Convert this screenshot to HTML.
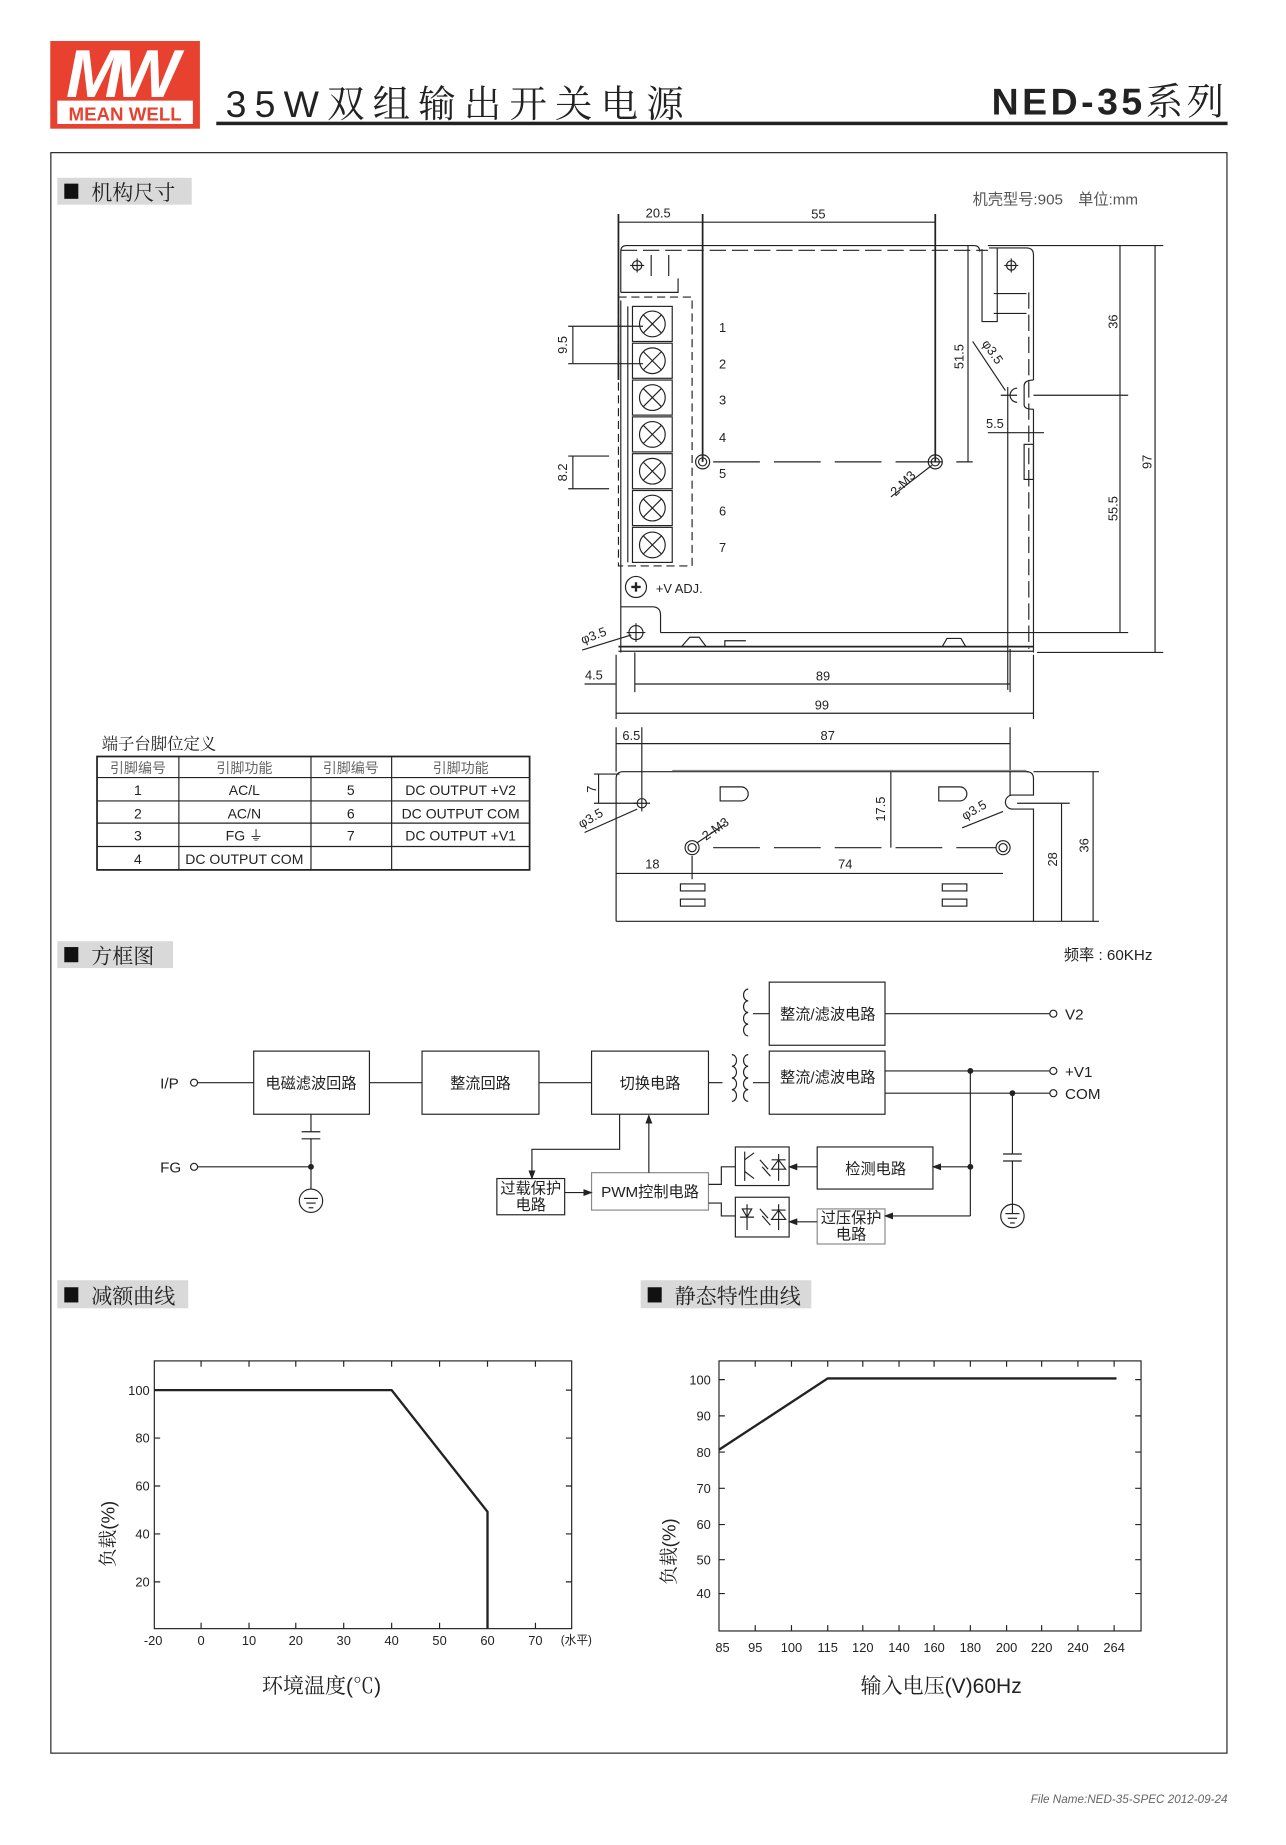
<!DOCTYPE html>
<html><head><meta charset="utf-8"><style>
html,body{margin:0;padding:0;background:#fff}
svg{display:block}
text{font-family:"Liberation Sans","Noto Sans CJK SC",sans-serif;fill:#222}
.c{font-family:"Liberation Sans","Noto Serif CJK SC","Noto Sans CJK SC",serif}
</style></head><body>
<svg width="1286" height="1845" viewBox="0 0 1100 1578" xmlns="http://www.w3.org/2000/svg">
<defs>
<marker id="ar" markerWidth="8" markerHeight="6" refX="7" refY="3" orient="auto" markerUnits="userSpaceOnUse"><path d="M0,0 L8,3 L0,6 z" fill="#222"/></marker>
</defs>
<!-- header -->
<rect x="43" y="35" width="128" height="75" fill="#e8412f"/>
<text x="102" y="83" font-size="58" font-style="italic" font-weight="bold" fill="#fff" text-anchor="middle" style="fill:#fff" letter-spacing="-6">MW</text>
<rect x="49" y="86" width="116" height="20" fill="#fff"/>
<text x="107" y="103" font-size="16" font-weight="bold" text-anchor="middle" style="fill:#e8412f">MEAN WELL</text>
<text x="193" y="100" font-size="32" class="c" letter-spacing="7">35W双组输出开关电源</text>
<rect x="185" y="104" width="865" height="3" fill="#222"/>
<text x="1050" y="98" font-size="32" font-weight="bold" text-anchor="end" letter-spacing="3">NED-35<tspan font-weight="normal" class="c">系列</tspan></text>
<!-- frame -->
<rect x="43.5" y="130.5" width="1006" height="1369" fill="none" stroke="#222" stroke-width="1"/>
<!-- section headers -->
<g class="c" font-size="18">
<rect x="49" y="152" width="115" height="23" fill="#d9d9d9"/><rect x="55" y="157" width="12" height="13" fill="#111"/><text x="78" y="171" class="c">机构尺寸</text>
<rect x="49" y="805" width="99" height="23" fill="#d9d9d9"/><rect x="55" y="810" width="12" height="13" fill="#111"/><text x="78" y="824" class="c">方框图</text>
<rect x="49" y="1095" width="112" height="24" fill="#d9d9d9"/><rect x="55" y="1101" width="12" height="13" fill="#111"/><text x="78" y="1115" class="c">减额曲线</text>
<rect x="548" y="1095" width="146" height="24" fill="#d9d9d9"/><rect x="554" y="1101" width="12" height="13" fill="#111"/><text x="577" y="1115" class="c">静态特性曲线</text>
</g>
<text x="832" y="175" font-size="13" fill="#555" style="fill:#555">机壳型号:905　单位:mm</text>

<!-- ===== top view ===== -->
<g stroke="#222" stroke-width="1" fill="none">
<line x1="529" y1="183" x2="529" y2="325" stroke-width="1.5"/>
<line x1="601" y1="183" x2="601" y2="395" stroke-width="1.5"/>
<line x1="800" y1="183" x2="800" y2="395" stroke-width="1.5"/>
<line x1="529" y1="190" x2="601" y2="190"/><line x1="601" y1="190" x2="800" y2="190"/>
<path d="M531,250 V215 Q531,210 536,210 H833 Q838,210 838,215 V213"/>
<line x1="531" y1="214" x2="845" y2="214" stroke-dasharray="14,5"/>
<path d="M531,250 H580 V238"/>
<line x1="557" y1="218" x2="557" y2="236"/><line x1="572" y1="218" x2="572" y2="236"/>
<circle cx="545" cy="227" r="4"/><line x1="539" y1="227" x2="551" y2="227"/><line x1="545" y1="221" x2="545" y2="233"/>
<path d="M840,213 V275 H853 V212"/>
<path d="M846,212 H878 Q884,212 884,218 V325 M884,350 V558"/>
<path d="M884,325 Q876,325 876,330 V346 Q876,350 884,350"/>
<circle cx="865" cy="227" r="4"/><line x1="859" y1="227" x2="871" y2="227"/><line x1="865" y1="221" x2="865" y2="233"/>
<line x1="850" y1="251" x2="878" y2="251"/><line x1="850" y1="268" x2="878" y2="268"/>
<line x1="880" y1="250" x2="880" y2="555" stroke-dasharray="14,5"/>
<path d="M870,332 A6,6 0 0 0 870,344"/><line x1="856" y1="338" x2="870" y2="338"/><line x1="862" y1="331" x2="862" y2="345"/>
<line x1="884" y1="338" x2="965" y2="338"/>
<rect x="876" y="380" width="8" height="30"/>
<line x1="845" y1="370" x2="893" y2="370"/>
<line x1="862" y1="345" x2="862" y2="590"/>
<path d="M531,257 V541 M531,558 V541"/>
<rect x="529" y="254" width="63" height="230" stroke-dasharray="7,4"/>
<g>
<rect x="541" y="262" width="34" height="30"/><circle cx="558" cy="277" r="11"/><path d="M550,269 L566,285 M566,269 L550,285"/>
<rect x="541" y="293.5" width="34" height="30"/><circle cx="558" cy="308.5" r="11"/><path d="M550,300.5 L566,316.5 M566,300.5 L550,316.5"/>
<rect x="541" y="325" width="34" height="30"/><circle cx="558" cy="340" r="11"/><path d="M550,332 L566,348 M566,332 L550,348"/>
<rect x="541" y="356.5" width="34" height="30"/><circle cx="558" cy="371.5" r="11"/><path d="M550,363.5 L566,379.5 M566,363.5 L550,379.5"/>
<rect x="541" y="388" width="34" height="30"/><circle cx="558" cy="403" r="11"/><path d="M550,395 L566,411 M566,395 L550,411"/>
<rect x="541" y="419.5" width="34" height="30"/><circle cx="558" cy="434.5" r="11"/><path d="M550,426.5 L566,442.5 M566,426.5 L550,442.5"/>
<rect x="541" y="451" width="34" height="30"/><circle cx="558" cy="466" r="11"/><path d="M550,458 L566,474 M566,458 L550,474"/>
<line x1="537" y1="262" x2="537" y2="481"/>
</g>
<line x1="486" y1="279" x2="550" y2="279"/><line x1="486" y1="311" x2="550" y2="311"/><line x1="490" y1="279" x2="490" y2="311"/>
<line x1="486" y1="390" x2="521" y2="390"/><line x1="486" y1="418" x2="521" y2="418"/><line x1="490" y1="390" x2="490" y2="418"/>
<circle cx="601" cy="395" r="6"/><circle cx="601" cy="395" r="3.5"/>
<circle cx="800" cy="395" r="6"/><circle cx="800" cy="395" r="3.5"/>
<line x1="610" y1="395" x2="832" y2="395" stroke-dasharray="40,12"/>
<line x1="828" y1="210" x2="828" y2="395"/>
<line x1="762" y1="425" x2="797" y2="398"/>
<line x1="832" y1="292" x2="860" y2="334"/>
<path d="M565,541 V526 Q565,519 558,519 H531"/>
<circle cx="544" cy="541" r="6"/><line x1="536" y1="541" x2="552" y2="541"/><line x1="544" y1="533" x2="544" y2="549"/>
<line x1="565" y1="541" x2="965" y2="541"/>
<line x1="529" y1="553" x2="884" y2="553" stroke-width="1.5"/><line x1="529" y1="557" x2="884" y2="557"/>
<path d="M583,553 L590,545 H598 L604,553"/><path d="M620,553 V548 H638"/><path d="M806,553 L810,546 H822 L826,553"/>
<line x1="498" y1="556" x2="540" y2="543"/>
<circle cx="544" cy="502" r="9"/><path d="M540,502 H548 M544,498 V506" stroke-width="2"/>
<line x1="845" y1="210" x2="995" y2="210"/><line x1="887" y1="558" x2="995" y2="558"/>
<line x1="958" y1="210" x2="958" y2="541"/><line x1="988" y1="210" x2="988" y2="558"/>
<line x1="527" y1="560" x2="527" y2="615"/><line x1="543" y1="558" x2="543" y2="592"/><line x1="864" y1="555" x2="864" y2="592"/><line x1="884" y1="560" x2="884" y2="615"/>
<line x1="500" y1="585" x2="527" y2="585"/><line x1="543" y1="585" x2="864" y2="585"/><line x1="527" y1="610" x2="884" y2="610"/>
</g>
<g font-size="11">
<text x="563" y="186" text-anchor="middle">20.5</text><text x="700" y="187" text-anchor="middle">55</text>
<text x="615" y="284">1</text><text x="615" y="315">2</text><text x="615" y="346">3</text><text x="615" y="378">4</text><text x="615" y="409">5</text><text x="615" y="441">6</text><text x="615" y="472">7</text>
<text transform="translate(485,295) rotate(-90)" text-anchor="middle">9.5</text>
<text transform="translate(485,404) rotate(-90)" text-anchor="middle">8.2</text>
<text transform="translate(824,305) rotate(-90)" text-anchor="middle">51.5</text>
<text transform="translate(775,416) rotate(-45)" text-anchor="middle">2-M3</text>
<text transform="translate(846,303) rotate(55)" text-anchor="middle">φ3.5</text>
<text x="851" y="366" text-anchor="middle">5.5</text>
<text x="561" y="507">+V ADJ.</text>
<text transform="translate(509,547) rotate(-20)" text-anchor="middle">φ3.5</text>
<text transform="translate(956,275) rotate(-90)" text-anchor="middle">36</text>
<text transform="translate(956,435) rotate(-90)" text-anchor="middle">55.5</text>
<text transform="translate(985,395) rotate(-90)" text-anchor="middle">97</text>
<text x="508" y="581" text-anchor="middle">4.5</text><text x="704" y="582" text-anchor="middle">89</text><text x="703" y="607" text-anchor="middle">99</text>
</g>

<!-- ===== side view ===== -->
<g stroke="#222" stroke-width="1" fill="none">
<line x1="527" y1="622" x2="527" y2="660"/><line x1="549" y1="622" x2="549" y2="680"/><line x1="864" y1="622" x2="864" y2="680"/>
<line x1="527" y1="636" x2="549" y2="636"/><line x1="549" y1="636" x2="864" y2="636"/>
<path d="M527,788 V666 Q527,660 533,660 H880"/>
<line x1="575" y1="659" x2="878" y2="659" stroke="#888"/>
<path d="M878,660 Q884,660 884,666 V680 H866 A6,6 0 0 0 866,692 H884 V788 H527"/>
<circle cx="549" cy="687" r="4"/><line x1="542" y1="687" x2="556" y2="687"/><line x1="549" y1="680" x2="549" y2="694"/>
<circle cx="592" cy="725" r="6"/><circle cx="592" cy="725" r="3.5"/>
<circle cx="858" cy="725" r="6"/><circle cx="858" cy="725" r="3.5"/>
<line x1="610" y1="725" x2="852" y2="725" stroke-dasharray="40,12"/>
<line x1="508" y1="662" x2="530" y2="662"/><line x1="508" y1="687" x2="545" y2="687"/><line x1="512" y1="662" x2="512" y2="687"/>
<line x1="762" y1="660" x2="762" y2="725"/>
<line x1="527" y1="747" x2="592" y2="747"/><line x1="592" y1="747" x2="858" y2="747"/><line x1="592" y1="732" x2="592" y2="752"/>
<path d="M616,673 H634 A6,6 0 0 1 634,685 H616 Z"/><path d="M803,673 H821 A6,6 0 0 1 821,685 H803 Z"/>
<rect x="582" y="756" width="21" height="6"/><rect x="582" y="769" width="21" height="6"/>
<rect x="806" y="756" width="21" height="6"/><rect x="806" y="769" width="21" height="6"/>
<line x1="884" y1="660" x2="940" y2="660"/><line x1="870" y1="687" x2="915" y2="687"/><line x1="884" y1="788" x2="940" y2="788"/>
<line x1="908" y1="687" x2="908" y2="788"/><line x1="935" y1="660" x2="935" y2="788"/>
<line x1="500" y1="712" x2="545" y2="692"/><line x1="596" y1="721" x2="620" y2="705"/><line x1="823" y1="708" x2="858" y2="694"/>
</g>
<g font-size="11">
<text x="540" y="633" text-anchor="middle">6.5</text><text x="708" y="633" text-anchor="middle">87</text>
<text transform="translate(510,675) rotate(-90)" text-anchor="middle">7</text>
<text transform="translate(757,692) rotate(-90)" text-anchor="middle">17.5</text>
<text x="558" y="743" text-anchor="middle">18</text><text x="723" y="743" text-anchor="middle">74</text>
<text transform="translate(904,735) rotate(-90)" text-anchor="middle">28</text>
<text transform="translate(931,723) rotate(-90)" text-anchor="middle">36</text>
<text transform="translate(507,703) rotate(-30)" text-anchor="middle">φ3.5</text>
<text transform="translate(614,712) rotate(-35)" text-anchor="middle">2-M3</text>
<text transform="translate(835,696) rotate(-30)" text-anchor="middle">φ3.5</text>
</g>

<!-- ===== table ===== -->
<text x="87" y="641" font-size="14" class="c">端子台脚位定义</text>
<g stroke="#222" fill="none">
<rect x="83" y="647" width="370" height="97" stroke-width="1.5"/>
<line x1="83" y1="665" x2="453" y2="665"/><line x1="83" y1="685" x2="453" y2="685"/><line x1="83" y1="704" x2="453" y2="704"/><line x1="83" y1="724" x2="453" y2="724"/>
<line x1="153" y1="647" x2="153" y2="744"/><line x1="266" y1="647" x2="266" y2="744"/><line x1="335" y1="647" x2="335" y2="744"/>
</g>
<g font-size="12" text-anchor="middle">
<text x="118" y="661" style="fill:#666">引脚编号</text><text x="209" y="661" style="fill:#666">引脚功能</text><text x="300" y="661" style="fill:#666">引脚编号</text><text x="394" y="661" style="fill:#666">引脚功能</text>
<text x="118" y="680">1</text><text x="209" y="680">AC/L</text><text x="300" y="680">5</text><text x="394" y="680">DC OUTPUT +V2</text>
<text x="118" y="700">2</text><text x="209" y="700">AC/N</text><text x="300" y="700">6</text><text x="394" y="700">DC OUTPUT COM</text>
<text x="118" y="719">3</text><text x="209" y="719">FG ⏚</text><text x="300" y="719">7</text><text x="394" y="719">DC OUTPUT +V1</text>
<text x="118" y="739">4</text><text x="209" y="739">DC OUTPUT COM</text>
</g>

<!-- ===== block diagram ===== -->
<text x="910" y="821" font-size="13">频率 : 60KHz</text>
<g stroke="#222" stroke-width="1" fill="none">
<rect x="217" y="899" width="99" height="54"/><rect x="361" y="899" width="100" height="54"/><rect x="506" y="899" width="100" height="54"/>
<rect x="658" y="840" width="99" height="54"/><rect x="658" y="899" width="99" height="54"/>
<rect x="699" y="981" width="99" height="36"/><rect x="699" y="1034" width="58" height="30" stroke="#888"/>
<rect x="506" y="1003" width="100" height="32" stroke="#888"/><rect x="425" y="1008" width="58" height="31"/>
<rect x="629" y="981" width="46" height="33"/><rect x="629" y="1024" width="46" height="34"/>
<circle cx="166" cy="926" r="3"/><line x1="169" y1="926" x2="217" y2="926"/>
<line x1="316" y1="926" x2="361" y2="926"/><line x1="461" y1="926" x2="506" y2="926"/>
<path d="M640,846 a4,5 0 0 0 0,10 a4,5 0 0 0 0,10 a4,5 0 0 0 0,10 a4,5 0 0 0 0,10"/>
<path d="M626,902 a4,5 0 0 1 0,10 a4,5 0 0 1 0,10 a4,5 0 0 1 0,10 a4,5 0 0 1 0,10"/>
<path d="M640,902 a4,5 0 0 0 0,10 a4,5 0 0 0 0,10 a4,5 0 0 0 0,10 a4,5 0 0 0 0,10"/>
<line x1="606" y1="926" x2="618" y2="926"/><line x1="644" y1="867" x2="658" y2="867"/><line x1="644" y1="926" x2="658" y2="926"/>
<line x1="757" y1="867" x2="898" y2="867"/><circle cx="901" cy="867" r="3"/>
<line x1="757" y1="916" x2="898" y2="916"/><circle cx="901" cy="916" r="3"/>
<line x1="757" y1="935" x2="898" y2="935"/><circle cx="901" cy="935" r="3"/>
<line x1="830" y1="916" x2="830" y2="1040"/><line x1="866" y1="935" x2="866" y2="987"/>
<line x1="858" y1="987" x2="874" y2="987"/><line x1="858" y1="993" x2="874" y2="993"/><line x1="866" y1="993" x2="866" y2="1030"/>
<circle cx="866" cy="1040" r="10"/><line x1="866" y1="1030" x2="866" y2="1038"/><line x1="860" y1="1038" x2="872" y2="1038"/><line x1="862" y1="1042" x2="870" y2="1042"/><line x1="864" y1="1046" x2="868" y2="1046"/>
<line x1="830" y1="998" x2="798" y2="998" marker-end="url(#ar)"/>
<line x1="830" y1="1040" x2="757" y2="1040" marker-end="url(#ar)"/>
<line x1="699" y1="998" x2="675" y2="998" marker-end="url(#ar)"/>
<line x1="699" y1="1045" x2="675" y2="1045" marker-end="url(#ar)"/>
<path d="M629,998 H617 V1013 H606"/><path d="M629,1040 H617 V1029 H606"/>
<path d="M530,953 V983 H455 V1008" marker-end="url(#ar)"/>
<line x1="555" y1="1003" x2="555" y2="954" marker-end="url(#ar)"/>
<line x1="483" y1="1020" x2="506" y2="1020" marker-end="url(#ar)"/>
<line x1="266" y1="953" x2="266" y2="968"/><line x1="258" y1="968" x2="274" y2="968"/><line x1="258" y1="974" x2="274" y2="974"/><line x1="266" y1="974" x2="266" y2="1017"/>
<circle cx="166" cy="998" r="3"/><line x1="169" y1="998" x2="266" y2="998"/>
<circle cx="266" cy="1027" r="10"/><line x1="260" y1="1025" x2="272" y2="1025"/><line x1="262" y1="1029" x2="270" y2="1029"/><line x1="264" y1="1033" x2="268" y2="1033"/>
<path d="M637,985 V1010 M637,992 L645,986 M637,1002 L645,1008 M650,992 L657,1000 M652,998 L659,1006 M666,987 V1010 M660,992 H672 M660,1000 L666,992 L672,1000 Z"/>
<path d="M633,1041 H645 M635,1034 L639,1041 L643,1034 Z M639,1030 V1052 M650,1034 L657,1042 M652,1040 L659,1048 M666,1030 V1052 M660,1035 H672 M660,1043 L666,1035 L672,1043 Z"/>
</g>
<g fill="#222"><circle cx="830" cy="916" r="2.5"/><circle cx="866" cy="935" r="2.5"/><circle cx="830" cy="998" r="2.5"/><circle cx="266" cy="998" r="2.5"/></g>
<g font-size="13" class="c" text-anchor="middle">
<text x="266" y="931">电磁滤波回路</text><text x="411" y="931">整流回路</text><text x="556" y="931">切换电路</text>
<text x="708" y="872">整流/滤波电路</text><text x="708" y="926">整流/滤波电路</text>
<text x="749" y="1004">检测电路</text><text x="556" y="1024">PWM控制电路</text>
<text x="454" y="1021">过载保护</text><text x="454" y="1035">电路</text>
<text x="728" y="1046">过压保护</text><text x="728" y="1060">电路</text>
</g>
<g font-size="13">
<text x="137" y="931">I/P</text><text x="137" y="1003">FG</text>
<text x="911" y="872">V2</text><text x="911" y="921">+V1</text><text x="911" y="940">COM</text>
</g>

<!-- ===== derating chart ===== -->
<g stroke="#222" fill="none">
<rect x="132" y="1164" width="357" height="229"/>
<path d="M132,1189 H335 L417,1293 V1393" stroke-width="2"/>
<path d="M132,1189 h5 M132,1230 h5 M132,1271 h5 M132,1312 h5 M132,1353 h5 M489,1189 h-5 M489,1230 h-5 M489,1271 h-5 M489,1312 h-5 M489,1353 h-5"/>
<path d="M172,1393 v-5 M213,1393 v-5 M253,1393 v-5 M294,1393 v-5 M335,1393 v-5 M376,1393 v-5 M417,1393 v-5 M458,1393 v-5 M172,1164 v5 M213,1164 v5 M253,1164 v5 M294,1164 v5 M335,1164 v5 M376,1164 v5 M417,1164 v5 M458,1164 v5"/>
</g>
<g font-size="11" text-anchor="end">
<text x="128" y="1193">100</text><text x="128" y="1234">80</text><text x="128" y="1275">60</text><text x="128" y="1316">40</text><text x="128" y="1357">20</text>
</g>
<g font-size="11" text-anchor="middle">
<text x="131" y="1407">-20</text><text x="172" y="1407">0</text><text x="213" y="1407">10</text><text x="253" y="1407">20</text><text x="294" y="1407">30</text><text x="335" y="1407">40</text><text x="376" y="1407">50</text><text x="417" y="1407">60</text><text x="458" y="1407">70</text><text x="493" y="1406" font-size="10">(水平)</text>
</g>
<text transform="translate(98,1312) rotate(-90)" font-size="16" class="c" text-anchor="middle">负载(%)</text>
<text x="275" y="1448" font-size="18" class="c" text-anchor="middle">环境温度(℃)</text>

<!-- ===== static chart ===== -->
<g stroke="#222" fill="none">
<rect x="615" y="1164" width="361" height="231"/>
<path d="M615,1240 L708,1179 H955" stroke-width="2"/>
<path d="M615,1180 h5 M615,1211 h5 M615,1242 h5 M615,1273 h5 M615,1304 h5 M615,1334 h5 M615,1363 h5 M976,1180 h-5 M976,1211 h-5 M976,1242 h-5 M976,1273 h-5 M976,1304 h-5 M976,1334 h-5 M976,1363 h-5"/>
<path d="M646,1395 v-5 M677,1395 v-5 M708,1395 v-5 M738,1395 v-5 M769,1395 v-5 M799,1395 v-5 M830,1395 v-5 M861,1395 v-5 M891,1395 v-5 M922,1395 v-5 M953,1395 v-5 M646,1164 v5 M677,1164 v5 M708,1164 v5 M738,1164 v5 M769,1164 v5 M799,1164 v5 M830,1164 v5 M861,1164 v5 M891,1164 v5 M922,1164 v5 M953,1164 v5"/>
</g>
<g font-size="11" text-anchor="end">
<text x="608" y="1184">100</text><text x="608" y="1215">90</text><text x="608" y="1246">80</text><text x="608" y="1277">70</text><text x="608" y="1308">60</text><text x="608" y="1338">50</text><text x="608" y="1367">40</text>
</g>
<g font-size="11" text-anchor="middle">
<text x="618" y="1413">85</text><text x="646" y="1413">95</text><text x="677" y="1413">100</text><text x="708" y="1413">115</text><text x="738" y="1413">120</text><text x="769" y="1413">140</text><text x="799" y="1413">160</text><text x="830" y="1413">180</text><text x="861" y="1413">200</text><text x="891" y="1413">220</text><text x="922" y="1413">240</text><text x="953" y="1413">264</text>
</g>
<text transform="translate(578,1327) rotate(-90)" font-size="16" class="c" text-anchor="middle">负载(%)</text>
<text x="805" y="1448" font-size="18" class="c" text-anchor="middle">输入电压(V)60Hz</text>

<text x="1050" y="1542" font-size="10" font-style="italic" text-anchor="end" style="fill:#666">File Name:NED-35-SPEC  2012-09-24</text>
</svg>
</body></html>
